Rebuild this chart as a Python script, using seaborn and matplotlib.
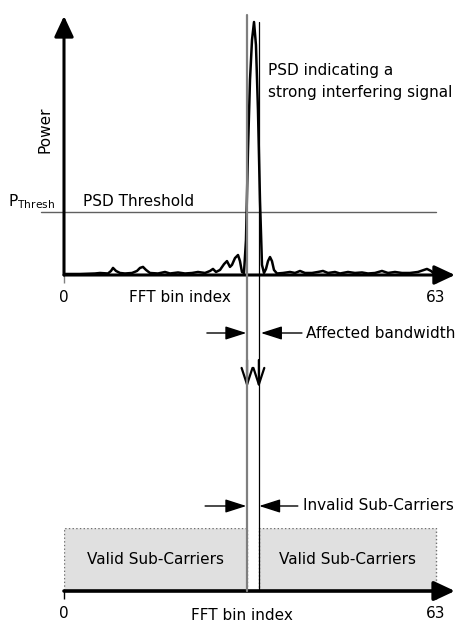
import numpy as np
import pandas as pd
import matplotlib
matplotlib.use("Agg")
import matplotlib.pyplot as plt
import seaborn as sns
from matplotlib.lines import Line2D
from matplotlib.transforms import blended_transform_factory

# ---------------- data ----------------
psd_bin = [0, 2.71, 5.25, 6.10, 7.45, 7.96, 8.30, 8.81, 9.48, 10.33, 11.52, 12.36,
           12.87, 13.38, 13.89, 14.56, 15.92, 17.10, 17.95, 19.31, 20.49, 21.68,
           22.69, 23.88, 24.73, 25.23, 25.74, 26.42, 27.10, 27.60, 28.11, 28.45,
           28.96, 29.47, 29.80, 30.14, 30.48, 30.82, 31.16, 31.50, 31.84, 32.18,
           32.51, 32.85, 33.19, 33.53, 33.87, 34.21, 34.55, 34.89, 35.22, 35.56,
           36.07, 37.09, 38.27, 39.12, 39.97, 40.81, 42.00, 43.01, 43.86, 44.71,
           45.89, 46.74, 48.09, 49.28, 50.47, 51.48, 52.67, 53.85, 54.87, 56.05,
           57.24, 58.59, 59.95, 60.96, 61.47, 62.15, 62.66, 63.00]
psd_power = [0.4, 0.4, 0.6, 0.8, 0.6, 1.6, 2.8, 1.6, 0.8, 0.6, 0.8, 1.6,
             2.8, 3.2, 2.0, 0.8, 0.6, 1.2, 0.6, 1.0, 0.6, 0.8,
             1.2, 0.8, 1.6, 2.4, 1.2, 2.0, 4.3, 5.5, 3.2, 4.0,
             6.7, 7.9, 5.5, 1.2, 0.8, 13.8, 49.4, 77.1, 92.9, 100.0,
             90.9, 65.2, 29.6, 4.0, 0.8, 2.4, 5.5, 7.1, 5.5, 2.0,
             0.6, 0.8, 1.2, 0.8, 1.6, 0.8, 0.8, 1.2, 1.6, 0.8,
             1.2, 0.6, 1.2, 0.8, 1.0, 0.6, 0.8, 1.6, 0.8, 1.2,
             0.8, 0.8, 1.2, 2.0, 2.4, 1.6, 0.6, 0.4]
threshold = 25.0
affected_bins = [31, 33]
band_start = [0, 33]
band_end = [31, 63]
band_labels = ["Valid Sub-Carriers", "Valid Sub-Carriers"]
tick_bins = [0, 63]
tick_labels = ["0", "63"]

# ---------------- style ----------------
sns.set_style("white")
plt.rcParams["font.family"] = ["DejaVu Sans"]
plt.rcParams["mathtext.default"] = "regular"
plt.rcParams["text.color"] = "black"
plt.rcParams["xtick.labelcolor"] = "black"
FS = 11

W, H = 456, 625
def fx(px):
    return px / W
def fy(py):
    return 1 - py / H

fig = plt.figure(figsize=(W / 100, H / 100), dpi=100)

XMAX = 65.88
# ---------------- top panel ----------------
ax1 = fig.add_axes([fx(64), fy(275), fx(453) - fx(64), fy(16) - fy(275)])
ax1.set_facecolor("none")
ax1.set_xlim(0, XMAX)
ax1.set_ylim(0, 102.37)
for s in ax1.spines.values():
    s.set_visible(False)
df = pd.DataFrame({"bin": psd_bin, "power": psd_power})
sns.lineplot(data=df, x="bin", y="power", ax=ax1, color="black", lw=1.8,
             estimator=None, sort=True, zorder=3)
ax1.plot([-3.9, 63], [threshold, threshold], color="#606060", lw=1, clip_on=False)
ax1.set_xticks(tick_bins)
ax1.set_xticklabels(tick_labels, fontsize=FS, color="black")
ax1.set_yticks([])
ax1.tick_params(axis="x", direction="out", length=6, width=1, color="#808080", pad=5,
                bottom=True, labelcolor="black")
ax1.set_xlabel("")
ax1.set_ylabel("")
axis_arrow = dict(arrowstyle="-|>,head_length=0.9,head_width=0.42", mutation_scale=14,
                  lw=2.2, color="black", shrinkA=0, shrinkB=0)
ax1.annotate("", xy=(1.005, 0), xytext=(0, 0), xycoords="axes fraction",
             arrowprops=axis_arrow, annotation_clip=False)
ax1.annotate("", xy=(0, 1), xytext=(0, 0), xycoords="axes fraction",
             arrowprops=axis_arrow, annotation_clip=False)

# ---------------- bottom panel ----------------
ax2 = fig.add_axes([fx(64), fy(591), fx(453) - fx(64), fy(528) - fy(591)])
ax2.set_facecolor("none")
ax2.set_xlim(0, XMAX)
ax2.set_ylim(0, 1)
for s in ax2.spines.values():
    s.set_visible(False)
widths = [e - s for s, e in zip(band_start, band_end)]
ax2.bar(band_start, [1] * len(band_start), width=widths, align="edge",
        color="#e0e0e0", edgecolor="#707070", linestyle=":", linewidth=1)
for s, e, lab in zip(band_start, band_end, band_labels):
    ax2.text((s + e) / 2, 0.5, lab, ha="center", va="center", fontsize=FS, color="black")
ax2.set_xticks(tick_bins)
ax2.set_xticklabels(tick_labels, fontsize=FS, color="black")
ax2.set_yticks([])
ax2.tick_params(axis="x", direction="out", length=6, width=1, color="black", pad=5,
                bottom=True, labelcolor="black")
ax2.annotate("", xy=(1.005, 0), xytext=(0, 0), xycoords="axes fraction",
             arrowprops=dict(axis_arrow, lw=2.6), annotation_clip=False)

# ---------------- connecting lines and arrows ----------------
trans = blended_transform_factory(ax1.transData, fig.transFigure)
fig.add_artist(Line2D([affected_bins[0]] * 2, [fy(15), fy(591)], transform=trans,
                      color="#7f7f7f", lw=1.6))
fig.add_artist(Line2D([affected_bins[1]] * 2, [fy(22), fy(591)], transform=trans,
                      color="black", lw=0.9))

down = dict(arrowstyle="->,head_length=0.85,head_width=0.28", mutation_scale=14,
            lw=1.6, color="black", shrinkA=0, shrinkB=0)
for b in affected_bins:
    ax1.annotate("", xy=(b, fy(388)), xytext=(b, fy(360)), xycoords=trans,
                 textcoords=trans, arrowprops=down, annotation_clip=False)

harrow = dict(arrowstyle="-|>,head_length=1.0,head_width=0.32", mutation_scale=13,
              lw=1, color="black", shrinkA=0, shrinkB=0)
for py, lx, rx in [(333, 24.2, 40.3), (506, 23.9, 39.6)]:
    ax1.annotate("", xy=(affected_bins[0] - 0.12, fy(py)), xytext=(lx, fy(py)),
                 xycoords=trans, textcoords=trans, arrowprops=harrow,
                 annotation_clip=False)
    ax1.annotate("", xy=(affected_bins[1] + (0.35 if py == 333 else 0.05), fy(py)),
                 xytext=(rx, fy(py)), xycoords=trans, textcoords=trans,
                 arrowprops=harrow, annotation_clip=False)

# ---------------- texts ----------------
fig.text(fx(306), fy(333), "Affected bandwidth", ha="left", va="center", fontsize=FS)
fig.text(fx(303), fy(506), "Invalid Sub-Carriers", ha="left", va="center", fontsize=FS)
fig.text(fx(180), fy(297), "FFT bin index", ha="center", va="center", fontsize=FS)
fig.text(fx(242), fy(615), "FFT bin index", ha="center", va="center", fontsize=FS)
fig.text(fx(45), fy(130), "Power", ha="center", va="center", rotation=90, fontsize=FS)
fig.text(fx(8), fy(206), "P$_{Thresh}$", ha="left", va="baseline", fontsize=FS)
fig.text(fx(83), fy(206), "PSD Threshold", ha="left", va="baseline", fontsize=FS)
fig.text(fx(268), fy(71), "PSD indicating a", ha="left", va="center", fontsize=FS)
fig.text(fx(268), fy(92), "strong interfering signal", ha="left", va="center", fontsize=FS)

fig.savefig("out.png", dpi=100)
